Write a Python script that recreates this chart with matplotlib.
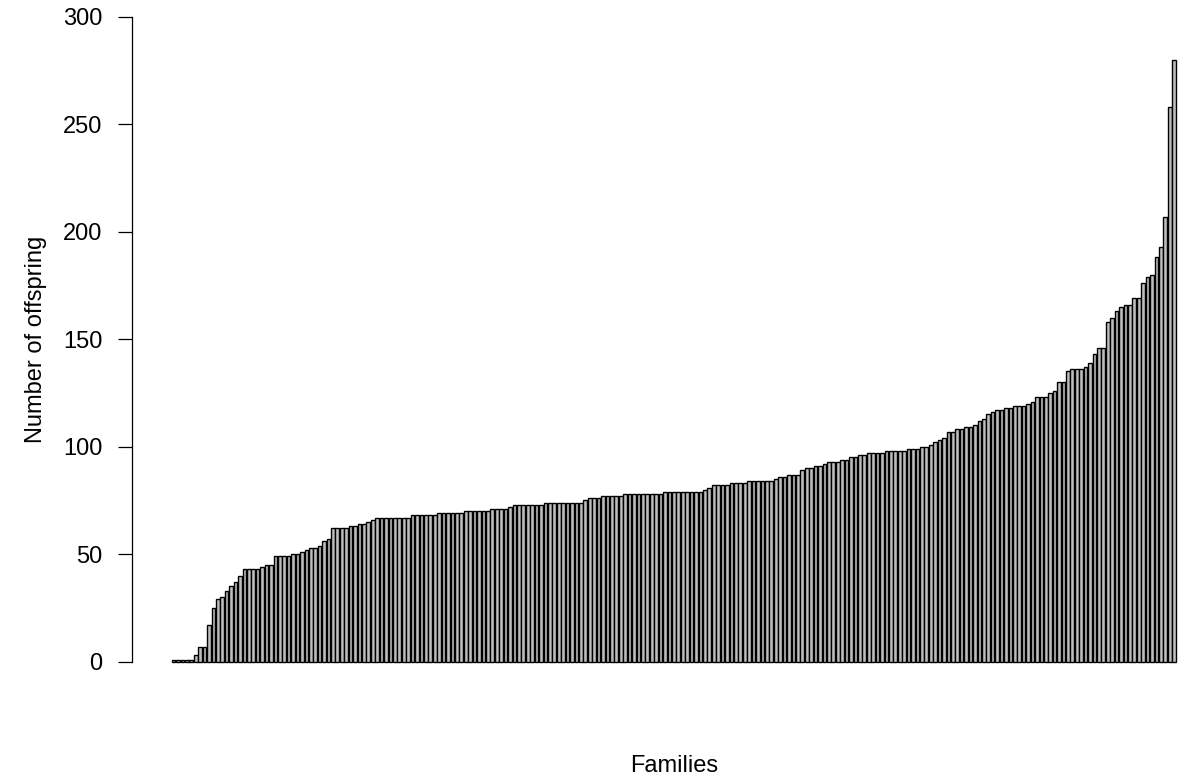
import matplotlib
matplotlib.use('Agg')
from matplotlib import pyplot as plt

plt.rcParams['font.family'] = ['Liberation Sans', 'DejaVu Sans']

# Número de descendentes por família (ordenado)
offspring = [
    1, 1, 1, 1, 1, 3, 7, 7, 17, 25, 29, 30, 33, 35, 37, 40, 43, 43, 43, 43,
    44, 45, 45, 49, 49, 49, 49, 50,
    50, 51, 52, 53, 53, 54, 56, 57, 62, 62, 62, 62, 63, 63, 64, 64, 65, 66,
    67, 67, 67, 67, 67, 67, 67, 67, 68,
    68, 68, 68, 68, 68, 69, 69, 69, 69, 69, 69, 70, 70, 70, 70, 70, 70,
    71, 71, 71, 71, 72, 73, 73, 73, 73, 73, 73, 73, 74,
    74, 74, 74, 74, 74, 74, 74, 74, 75, 76, 76, 76, 77, 77, 77, 77, 77,
    78, 78, 78, 78, 78, 78, 78, 78, 78, 79,
    79, 79, 79, 79, 79, 79, 79, 79, 80, 81, 82, 82, 82, 82, 83, 83, 83, 83,
    84, 84, 84, 84, 84, 84, 85, 86, 86, 87, 87,
    87, 89, 90, 90, 91, 91, 92, 93, 93, 93, 94, 94, 95, 95, 96, 96,
    97, 97, 97, 97, 98, 98, 98, 98, 98, 99, 99, 99,
    100, 100, 101, 102, 103, 104, 107, 107, 108, 108, 109, 109, 110, 112,
    113, 115, 116, 117, 117, 118, 118, 119, 119, 119, 120, 121, 123, 123,
    123, 125, 126, 130, 130, 135, 136, 136, 136, 137, 139, 143, 146, 146,
    158, 160, 163, 165, 166, 166, 169, 169, 176, 179, 180, 188, 193, 207,
    258, 280,
]

y_ticks = [0, 50, 100, 150, 200, 250, 300]
y_tick_labels = ['0', '50', '100', '150', '200', '250', '300']

# posições no estilo do barplot: largura 1, espaço 0.2
n = len(offspring)
pos = [0.7 + 1.2 * i for i in range(n)]
span = 1.2 * n - 0.2

fig = plt.figure(figsize=(11.86, 7.76), dpi=100)
ax = fig.add_axes([131.5 / 1186, 0.11405, 1084.7 / 1186, 0.8977])

ax.bar(pos, offspring, width=1.0, color='#bebebe', edgecolor='black', linewidth=1.0)

ax.set_xlim(0.2 - 0.04 * span, 0.2 + span + 0.04 * span)
ax.set_ylim(-12, 312)

for lado in ['top', 'right', 'bottom']:
    ax.spines[lado].set_visible(False)
ax.spines['left'].set_bounds(0, 300)
ax.spines['left'].set_linewidth(0.9)

ax.set_xticks([])
ax.set_yticks(y_ticks)
ax.set_yticklabels(y_tick_labels)
ax.tick_params(axis='y', direction='out', length=10, width=0.9, pad=11, labelsize=17)

fig.text(41.7 / 1186, 1 - 339 / 776, 'Number of offspring', rotation=90, rotation_mode='anchor',
         ha='center', va='baseline', fontsize=17)
fig.text(673.8 / 1186, 4.3 / 776, 'Families', ha='center', va='baseline', fontsize=17)

plt.savefig('out.png', dpi=100)
